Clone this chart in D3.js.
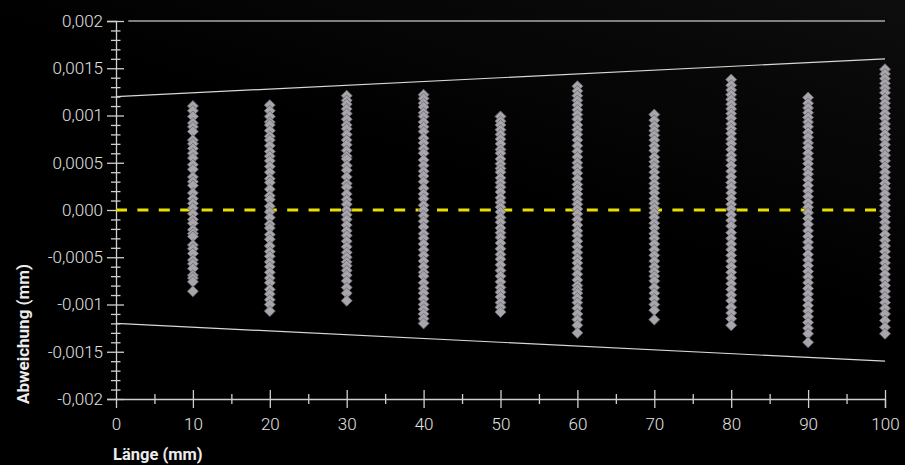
<!DOCTYPE html>
<html>
<head>
<meta charset="utf-8">
<script src="https://cdn.jsdelivr.net/npm/d3@7"></script>
<style>
  html, body { margin: 0; padding: 0; background: #000; }
  svg { display: block; }
</style>
</head>
<body>
<svg id="chart" width="905" height="465"></svg>
<script>
// ---------- DATA ----------
const positions = [10, 20, 30, 40, 50, 60, 70, 80, 90, 100]; // Länge (mm)
// Abweichung in µm (converted to mm when plotted)
const dev10 = [1.10, 1.05, 0.99, 0.92, 0.88, 0.83, 0.74, 0.70, 0.65, 0.60, 0.55, 0.48, 0.43, 0.35, 0.30, 0.26, 0.18, 0.12, 0.07, 0.02, -0.04, -0.10, -0.14, -0.21, -0.25, -0.28, -0.37, -0.41, -0.46, -0.53, -0.57, -0.62, -0.69, -0.72, -0.76, -0.86];
const dev20 = [1.11, 1.05, 0.99, 0.93, 0.90, 0.84, 0.78, 0.74, 0.68, 0.62, 0.57, 0.52, 0.46, 0.40, 0.33, 0.29, 0.22, 0.15, 0.11, 0.04, -0.02, -0.08, -0.15, -0.19, -0.26, -0.31, -0.38, -0.44, -0.49, -0.55, -0.60, -0.66, -0.72, -0.77, -0.84, -0.89, -0.95, -1.00, -1.07];
const dev30 = [1.21, 1.16, 1.12, 1.07, 1.02, 0.96, 0.90, 0.86, 0.80, 0.74, 0.69, 0.63, 0.57, 0.54, 0.47, 0.42, 0.35, 0.28, 0.24, 0.17, 0.11, 0.06, 0.00, -0.05, -0.10, -0.16, -0.22, -0.27, -0.33, -0.39, -0.45, -0.50, -0.55, -0.59, -0.64, -0.69, -0.75, -0.82, -0.88, -0.96];
const dev40 = [1.22, 1.18, 1.13, 1.09, 1.03, 0.99, 0.93, 0.88, 0.83, 0.76, 0.71, 0.65, 0.60, 0.53, 0.47, 0.41, 0.36, 0.30, 0.23, 0.17, 0.12, 0.05, 0.00, -0.06, -0.12, -0.18, -0.25, -0.30, -0.36, -0.42, -0.48, -0.54, -0.60, -0.66, -0.70, -0.77, -0.83, -0.88, -0.94, -1.00, -1.05, -1.10, -1.15, -1.20];
const dev50 = [0.99, 0.94, 0.90, 0.85, 0.80, 0.75, 0.70, 0.64, 0.60, 0.54, 0.49, 0.44, 0.40, 0.34, 0.29, 0.24, 0.19, 0.13, 0.08, 0.03, -0.02, -0.08, -0.13, -0.19, -0.24, -0.29, -0.35, -0.41, -0.47, -0.52, -0.58, -0.64, -0.70, -0.76, -0.82, -0.87, -0.92, -0.98, -1.03, -1.08];
const dev60 = [1.31, 1.26, 1.21, 1.16, 1.11, 1.06, 1.01, 0.96, 0.90, 0.85, 0.80, 0.74, 0.68, 0.62, 0.56, 0.50, 0.45, 0.39, 0.33, 0.27, 0.22, 0.17, 0.11, 0.06, 0.01, -0.04, -0.10, -0.16, -0.22, -0.27, -0.33, -0.39, -0.45, -0.51, -0.56, -0.62, -0.68, -0.74, -0.80, -0.84, -0.88, -0.93, -0.98, -1.04, -1.10, -1.16, -1.22, -1.30];
const dev70 = [1.01, 0.95, 0.89, 0.84, 0.79, 0.74, 0.68, 0.63, 0.56, 0.51, 0.46, 0.40, 0.34, 0.28, 0.23, 0.18, 0.12, 0.07, 0.02, -0.03, -0.08, -0.14, -0.19, -0.25, -0.30, -0.36, -0.42, -0.48, -0.54, -0.60, -0.65, -0.70, -0.75, -0.82, -0.88, -0.94, -1.00, -1.06, -1.16];
const dev80 = [1.38, 1.32, 1.27, 1.22, 1.17, 1.12, 1.07, 1.02, 0.97, 0.91, 0.86, 0.81, 0.75, 0.70, 0.64, 0.58, 0.53, 0.47, 0.41, 0.35, 0.29, 0.24, 0.18, 0.12, 0.06, 0.01, -0.05, -0.11, -0.17, -0.24, -0.30, -0.36, -0.42, -0.48, -0.54, -0.60, -0.66, -0.72, -0.78, -0.84, -0.90, -0.96, -1.03, -1.09, -1.15, -1.22];
const dev90 = [1.19, 1.13, 1.08, 1.03, 0.98, 0.93, 0.88, 0.82, 0.77, 0.71, 0.66, 0.60, 0.54, 0.49, 0.43, 0.38, 0.32, 0.26, 0.20, 0.14, 0.08, 0.03, -0.03, -0.09, -0.15, -0.22, -0.28, -0.34, -0.40, -0.47, -0.53, -0.59, -0.65, -0.71, -0.77, -0.83, -0.89, -0.95, -1.01, -1.07, -1.13, -1.19, -1.25, -1.31, -1.40];
const dev100 = [1.49, 1.44, 1.39, 1.34, 1.29, 1.24, 1.18, 1.13, 1.08, 1.02, 0.97, 0.91, 0.86, 0.80, 0.75, 0.69, 0.63, 0.58, 0.52, 0.46, 0.40, 0.34, 0.28, 0.23, 0.17, 0.11, 0.05, -0.01, -0.07, -0.13, -0.19, -0.26, -0.32, -0.38, -0.44, -0.50, -0.56, -0.62, -0.68, -0.74, -0.80, -0.86, -0.92, -0.98, -1.04, -1.10, -1.17, -1.24, -1.31];
const deviations = [dev10, dev20, dev30, dev40, dev50, dev60, dev70, dev80, dev90, dev100];

// Tolerance limits (mm) at Länge 0 and 100
const limitX = [0, 100];
const upperLimit = [0.0012, 0.0016];
const lowerLimit = [-0.0012, -0.0016];
const topLineX = [1.6, 100];
const topLineY = [0.002, 0.002];

// Tick labels
const yTickValues = [0.002, 0.0015, 0.001, 0.0005, 0, -0.0005, -0.001, -0.0015, -0.002];
const yTickLabels = ["0,002", "0,0015", "0,001", "0,0005", "0,000", "-0,0005", "-0,001", "-0,0015", "-0,002"];
const yMinorTicks = [0.0019, 0.0018, 0.0017, 0.0016, 0.0014, 0.0013, 0.0012, 0.0011, 0.0009, 0.0008, 0.0007, 0.0006, 0.0004, 0.0003, 0.0002, 0.0001, -0.0001, -0.0002, -0.0003, -0.0004, -0.0006, -0.0007, -0.0008, -0.0009, -0.0011, -0.0012, -0.0013, -0.0014, -0.0016, -0.0017, -0.0018, -0.0019];
const xTickValues = [0, 10, 20, 30, 40, 50, 60, 70, 80, 90, 100];
const xMinorTicks = [5, 15, 25, 35, 45, 55, 65, 75, 85, 95];
const xTitle = "Länge (mm)";
const yTitle = "Abweichung (mm)";

// ---------- CHART ----------
const svg = d3.select("#chart");
const W = 905, H = 465;

const defs = svg.append("defs");
const grad = defs.append("linearGradient").attr("id", "bg")
  .attr("x1", "0.35").attr("y1", "1").attr("x2", "1").attr("y2", "0");
grad.append("stop").attr("offset", "0").attr("stop-color", "#000");
grad.append("stop").attr("offset", "0.5").attr("stop-color", "#000");
grad.append("stop").attr("offset", "1").attr("stop-color", "#0d0d0d");
svg.append("rect").attr("width", W).attr("height", H).attr("fill", "url(#bg)");

const x = d3.scaleLinear().domain([0, 100]).range([116, 885]);
const y = d3.scaleLinear().domain([-0.002, 0.002]).range([399, 21]);

const font = "Roboto, 'DejaVu Sans', sans-serif";
const axisColor = "#cfcfcf";

// top line
svg.append("line")
  .attr("x1", x(topLineX[0])).attr("x2", x(topLineX[1]))
  .attr("y1", y(topLineY[0])).attr("y2", y(topLineY[1]))
  .attr("stroke", "#a8a8a8").attr("stroke-width", 1.5);

// limit lines
const lineGen = d3.line().x(d => x(d[0])).y(d => y(d[1]));
svg.append("path").datum(limitX.map((v, i) => [v, upperLimit[i]]))
  .attr("d", lineGen).attr("fill", "none").attr("stroke", "#d8d8d8").attr("stroke-width", 1.2);
svg.append("path").datum(limitX.map((v, i) => [v, lowerLimit[i]]))
  .attr("d", lineGen).attr("fill", "none").attr("stroke", "#d8d8d8").attr("stroke-width", 1.2);

// Y axis
const yAxisMajor = svg.append("g").attr("transform", `translate(${x(0)},0)`)
  .call(d3.axisLeft(y).tickValues(yTickValues).tickSize(9).tickPadding(4)
    .tickFormat((d, i) => yTickLabels[i]));
yAxisMajor.select(".domain").attr("stroke", axisColor).attr("stroke-width", 1.3);
yAxisMajor.selectAll(".tick line").attr("x1", 8).attr("x2", -9).attr("stroke", axisColor).attr("stroke-width", 1.3);
yAxisMajor.selectAll(".tick text").attr("fill", "#e2e2e2")
  .attr("font-family", font).attr("font-size", 17).attr("font-weight", 300);

const yAxisMinor = svg.append("g").attr("transform", `translate(${x(0)},0)`)
  .call(d3.axisLeft(y).tickValues(yMinorTicks).tickSize(5).tickFormat(""));
yAxisMinor.select(".domain").remove();
yAxisMinor.selectAll(".tick line").attr("x1", 4.5).attr("x2", -5).attr("stroke", axisColor).attr("stroke-width", 1.3);

// X axis
const xAxisMajor = svg.append("g").attr("transform", `translate(0,${y(-0.002)})`)
  .call(d3.axisBottom(x).tickValues(xTickValues).tickSize(9).tickPadding(10)
    .tickFormat(d3.format("d")));
xAxisMajor.select(".domain").attr("stroke", axisColor).attr("stroke-width", 1.3);
xAxisMajor.selectAll(".tick line").attr("y1", -9).attr("y2", 9).attr("stroke", axisColor).attr("stroke-width", 1.3)
  .filter(d => d === 0).remove();
xAxisMajor.selectAll(".tick text").attr("fill", "#e2e2e2")
  .attr("font-family", font).attr("font-size", 17).attr("font-weight", 300);

const xAxisMinor = svg.append("g").attr("transform", `translate(0,${y(-0.002)})`)
  .call(d3.axisBottom(x).tickValues(xMinorTicks).tickSize(5).tickFormat(""));
xAxisMinor.select(".domain").remove();
xAxisMinor.selectAll(".tick line").attr("y1", -5).attr("y2", 5).attr("stroke", axisColor).attr("stroke-width", 1.3);

// zero line
svg.append("line")
  .attr("x1", x(0)).attr("x2", x(100))
  .attr("y1", y(0)).attr("y2", y(0))
  .attr("stroke", "#e6e000").attr("stroke-width", 3)
  .attr("stroke-dasharray", "11,10.4");

// points
const pts = [];
positions.forEach((p, i) => deviations[i].forEach(v => pts.push({ x: p, y: v / 1000 })));
const diamond = d3.symbol().type(d3.symbolSquare).size(60);
svg.append("g").selectAll("path").data(pts).join("path")
  .attr("d", diamond)
  .attr("transform", d => `translate(${x(d.x)},${y(d.y)}) rotate(45)`)
  .attr("fill", "#a9a5ac")
  .attr("stroke", "#6e6b70")
  .attr("stroke-width", 0.8);

// titles
svg.append("text")
  .attr("transform", `translate(29,334) rotate(-90)`)
  .attr("text-anchor", "middle")
  .attr("font-family", font).attr("font-weight", 700).attr("font-size", 17)
  .attr("fill", "#ececec")
  .text(yTitle);

svg.append("text")
  .attr("x", 113).attr("y", 460)
  .attr("font-family", font).attr("font-weight", 700).attr("font-size", 16.5)
  .attr("fill", "#ececec")
  .text(xTitle);
</script>
</body>
</html>
